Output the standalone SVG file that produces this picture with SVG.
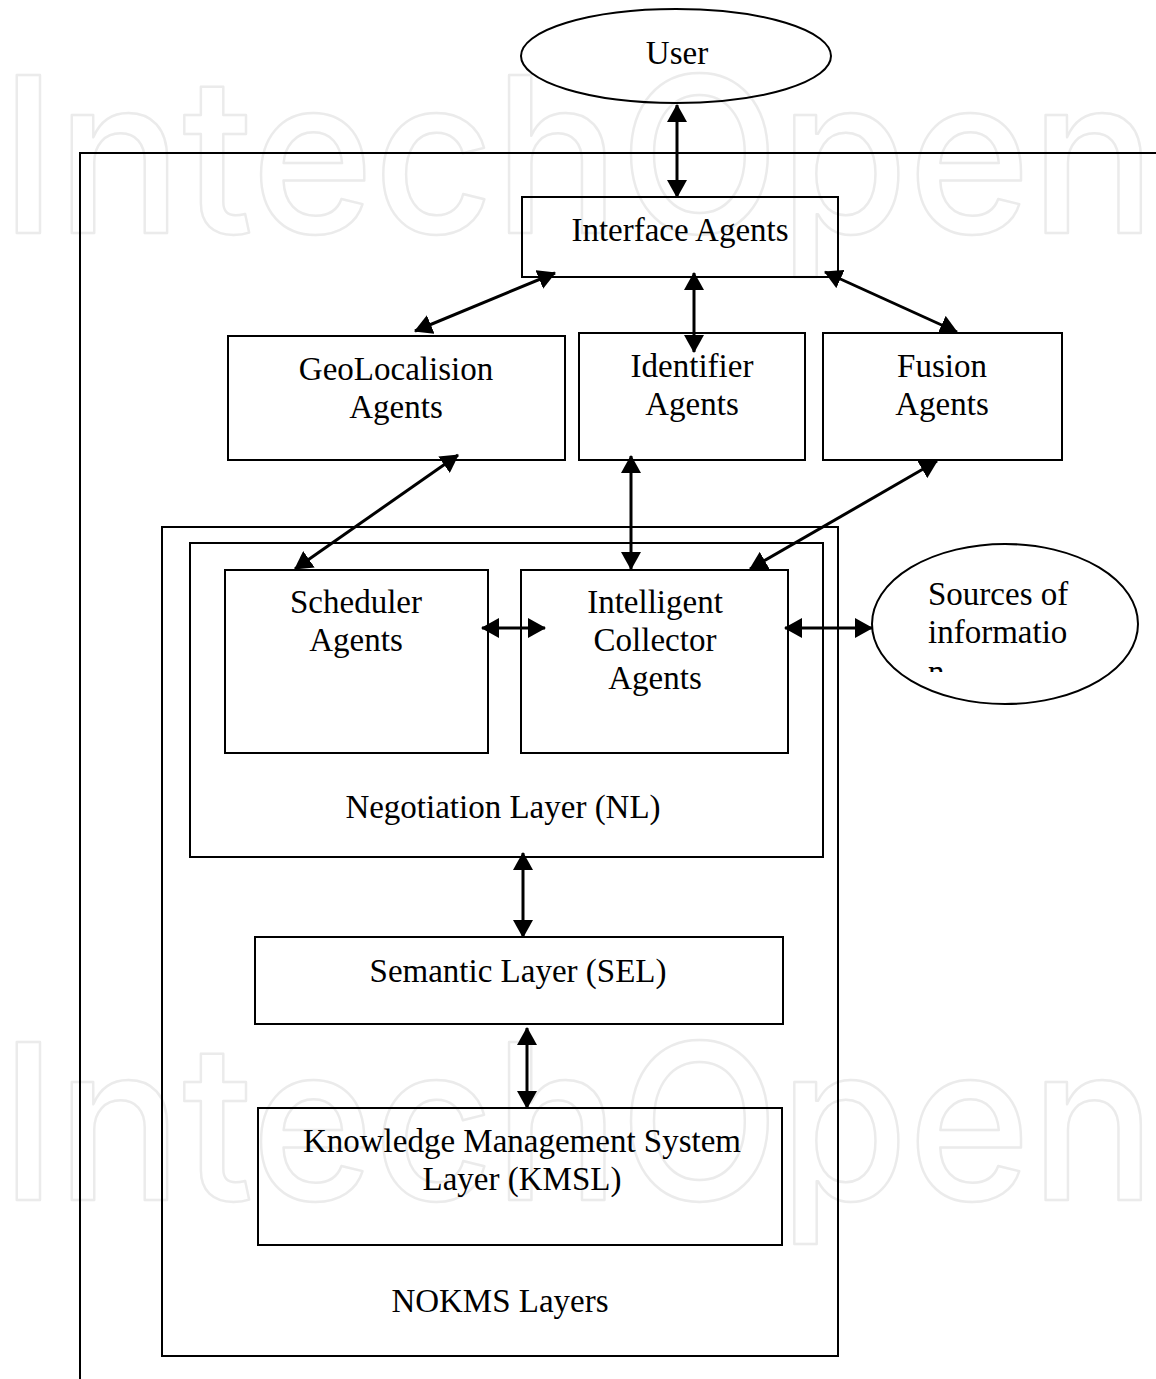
<svg xmlns="http://www.w3.org/2000/svg" width="1156" height="1379" viewBox="0 0 1156 1379">
  <style>
    .wm { font-family: Inter, "Noto Sans", sans-serif; font-size: 217px; font-weight: 500; fill: none; stroke: #ebebeb; stroke-width: 2.5; stroke-linejoin: round; }
    .box { fill: none; stroke: #000; stroke-width: 2; }
    .lbl { font-family: "Liberation Serif", "Times New Roman", serif; font-size: 33px; fill: #000; text-anchor: middle; }
    .lft { text-anchor: start; }
    .link { stroke: #000; stroke-width: 3; fill: none; marker-start: url(#head); marker-end: url(#head); }
  </style>
  <defs>
    <marker id="head" markerUnits="userSpaceOnUse" markerWidth="18" markerHeight="20" refX="17" refY="10" orient="auto-start-reverse">
      <path d="M0,0 L18,10 L0,20 z" fill="#000"/>
    </marker>
    <clipPath id="srcClip">
      <rect x="872" y="544" width="266" height="128"/>
    </clipPath>
  </defs>

  <rect width="1156" height="1379" fill="#fff"/>

  <!-- background watermark -->
  <g id="watermark">
    <text class="wm" x="0" y="233" textLength="1156" lengthAdjust="spacingAndGlyphs">IntechOpen</text>
    <text class="wm" x="0" y="1200" textLength="1156" lengthAdjust="spacingAndGlyphs">IntechOpen</text>
  </g>

  <!-- system frame -->
  <path id="frame" class="box" d="M80,1379 V153 H1156"/>

  <g id="user">
    <ellipse class="box" cx="676" cy="56" rx="155" ry="47"/>
    <text class="lbl" x="677" y="64">User</text>
  </g>

  <g id="interface">
    <rect class="box" x="522" y="197" width="316" height="80"/>
    <text class="lbl" x="680" y="241">Interface Agents</text>
  </g>

  <g id="geolocalision">
    <rect class="box" x="228" y="336" width="337" height="124"/>
    <text class="lbl" x="396" y="380">GeoLocalision</text>
    <text class="lbl" x="396" y="418">Agents</text>
  </g>

  <g id="identifier">
    <rect class="box" x="579" y="333" width="226" height="127"/>
    <text class="lbl" x="692" y="377">Identifier</text>
    <text class="lbl" x="692" y="415">Agents</text>
  </g>

  <g id="fusion">
    <rect class="box" x="823" y="333" width="239" height="127"/>
    <text class="lbl" x="942" y="377">Fusion</text>
    <text class="lbl" x="942" y="415">Agents</text>
  </g>

  <g id="nokms">
    <rect class="box" x="162" y="527" width="676" height="829"/>
    <text class="lbl" x="500" y="1312">NOKMS Layers</text>
  </g>

  <g id="negotiation">
    <rect class="box" x="190" y="543" width="633" height="314"/>
    <text class="lbl" x="503" y="818">Negotiation Layer (NL)</text>
  </g>

  <g id="scheduler">
    <rect class="box" x="225" y="570" width="263" height="183"/>
    <text class="lbl" x="356" y="613">Scheduler</text>
    <text class="lbl" x="356" y="651">Agents</text>
  </g>

  <g id="collector">
    <rect class="box" x="521" y="570" width="267" height="183"/>
    <text class="lbl" x="655" y="613">Intelligent</text>
    <text class="lbl" x="655" y="651">Collector</text>
    <text class="lbl" x="655" y="689">Agents</text>
  </g>

  <g id="sources">
    <ellipse class="box" cx="1005" cy="624" rx="133" ry="80"/>
    <g clip-path="url(#srcClip)">
      <text class="lbl lft" x="928" y="605">Sources of</text>
      <text class="lbl lft" x="928" y="643">informatio</text>
      <text class="lbl lft" x="928" y="683">n</text>
    </g>
  </g>

  <g id="semantic">
    <rect class="box" x="255" y="937" width="528" height="87"/>
    <text class="lbl" x="518" y="982">Semantic Layer (SEL)</text>
  </g>

  <g id="kmsl">
    <rect class="box" x="258" y="1108" width="524" height="137"/>
    <text class="lbl" x="522" y="1152">Knowledge Management System</text>
    <text class="lbl" x="522" y="1190">Layer (KMSL)</text>
  </g>

  <!-- two-way links -->
  <g id="connectors">
    <line class="link" x1="677" y1="105" x2="677" y2="197"/>
    <line class="link" x1="555" y1="273" x2="415" y2="331"/>
    <line class="link" x1="694" y1="273" x2="694" y2="352"/>
    <line class="link" x1="825" y1="272" x2="957" y2="332"/>
    <line class="link" x1="458" y1="455" x2="295" y2="569"/>
    <line class="link" x1="631" y1="456" x2="631" y2="569"/>
    <line class="link" x1="937" y1="461" x2="750" y2="569"/>
    <line class="link" x1="482" y1="628" x2="545" y2="628"/>
    <line class="link" x1="785" y1="628" x2="872" y2="628"/>
    <line class="link" x1="523" y1="853" x2="523" y2="937"/>
    <line class="link" x1="527" y1="1028" x2="527" y2="1108"/>
  </g>
</svg>
